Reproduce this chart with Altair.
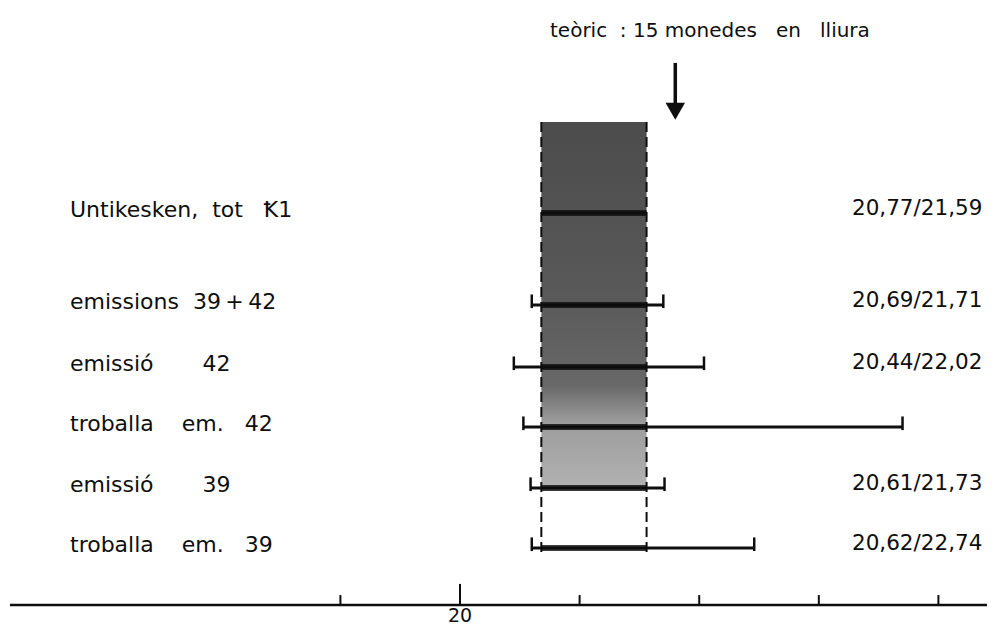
import altair as alt
import pandas as pd

NB = "\u00a0"

# ---- data ----
row_labels = [
    "Untikesken," + NB * 2 + "tot" + NB * 3 + "Ꝁ1",
    "emissions" + NB * 2 + "39\u2009+\u200942",
    "emissió" + NB * 7 + "42",
    "troballa" + NB * 4 + "em." + NB * 3 + "42",
    "emissió" + NB * 7 + "39",
    "troballa" + NB * 4 + "em." + NB * 3 + "39",
]
row_pos = [0.0, 1.484, 2.484, 3.452, 4.435, 5.403]
low = [20.68, 20.60, 20.45, 20.53, 20.59, 20.60]
high = [21.56, 21.70, 22.04, 23.70, 21.71, 22.46]
has_caps = [False, True, True, True, True, True]
range_labels = ["20,77/21,59", "20,69/21,71", "20,44/22,02", "", "20,61/21,73", "20,62/22,74"]

band_x = [20.68, 21.56]
band_y = [-1.468, 4.435]
dash_end = 5.532

theoretical = 21.8
theory_text = "teòric" + NB * 2 + ":" + NB + "15" + NB + "monedes" + NB * 3 + "en" + NB * 3 + "lliura"

tick_values = [19, 20, 21, 22, 23, 24]
tick_labels = ["", "20", "", "", "", ""]
axis_y = 6.323

# ---- scales ----
xs = alt.Scale(domain=[16.2207, 24.4063], nice=False, zero=False)
ys = alt.Scale(domain=[-3.306, 6.694], reverse=True, nice=False, zero=False)
FONT = "DejaVu Sans"
INK = "#0e0e0e"

rows = pd.DataFrame({"label": row_labels, "row": row_pos, "low": low, "high": high,
                     "caps": has_caps, "rlabel": range_labels})
band_df = pd.DataFrame({"x": [band_x[0]], "x2": [band_x[1]], "y": [band_y[0]], "y2": [band_y[1]]})
edge_df = pd.DataFrame({"x": band_x, "y": [band_y[0]] * 2, "y2": [dash_end] * 2})
ticks_df = pd.DataFrame({"v": tick_values, "lab": tick_labels})
theory_df = pd.DataFrame({"x": [theoretical], "txt": [theory_text],
                          "s1": [-2.42], "s2": [-1.72], "hy": [-1.64], "ty": [-2.839]})

gradient = alt.Gradient(
    gradient="linear",
    stops=[
        alt.GradientStop(color="#4c4c4c", offset=0),
        alt.GradientStop(color="#585858", offset=0.45),
        alt.GradientStop(color="#686868", offset=0.72),
        alt.GradientStop(color="#9c9c9c", offset=0.82),
        alt.GradientStop(color="#b2b2b2", offset=1),
    ],
    x1=0, x2=0, y1=0, y2=1,
)

band = alt.Chart(band_df).mark_rect(color=gradient).encode(
    x=alt.X("x:Q", scale=xs, axis=None), x2="x2:Q",
    y=alt.Y("y:Q", scale=ys, axis=None), y2="y2:Q",
)

edges = alt.Chart(edge_df).mark_rule(color=INK, strokeWidth=2, strokeDash=[10, 5]).encode(
    x=alt.X("x:Q", scale=xs, axis=None),
    y=alt.Y("y:Q", scale=ys, axis=None), y2="y2:Q",
)

intervals = alt.Chart(rows).mark_rule(color=INK, strokeWidth=3).encode(
    x=alt.X("low:Q", scale=xs, axis=None), x2="high:Q",
    y=alt.Y("row:Q", scale=ys, axis=None),
)

inside = alt.Chart(rows).transform_calculate(
    lo2=f"max(datum.low, {band_x[0]})", hi2=f"min(datum.high, {band_x[1]})"
).mark_rule(color="#0c0c0c", strokeWidth=6, opacity=0.8).encode(
    x=alt.X("lo2:Q", scale=xs, axis=None), x2="hi2:Q",
    y=alt.Y("row:Q", scale=ys, axis=None),
)

caps = alt.Chart(rows).transform_filter("datum.caps").transform_fold(
    ["low", "high"], as_=["end", "xv"]
).transform_calculate(
    ytop="datum.row - 0.17", ybot="datum.row + 0.05"
).mark_rule(color=INK, strokeWidth=2.5).encode(
    x=alt.X("xv:Q", scale=xs, axis=None),
    y=alt.Y("ytop:Q", scale=ys, axis=None), y2="ybot:Q",
)

left_text = alt.Chart(rows).mark_text(
    align="left", baseline="alphabetic", font=FONT, fontSize=22, color=INK, dy=4
).encode(x=alt.value(62), y=alt.Y("row:Q", scale=ys, axis=None), text="label:N")

right_text = alt.Chart(rows).mark_text(
    align="left", baseline="alphabetic", font=FONT, fontSize=21.5, color=INK, dy=2
).encode(x=alt.value(844), y=alt.Y("row:Q", scale=ys, axis=None), text="rlabel:N")

shaft = alt.Chart(theory_df).mark_rule(color=INK, strokeWidth=3.5).encode(
    x=alt.X("x:Q", scale=xs, axis=None),
    y=alt.Y("s1:Q", scale=ys, axis=None), y2="s2:Q",
)

head = alt.Chart(theory_df).mark_point(
    shape="triangle-down", filled=True, color=INK, opacity=1, size=380
).encode(x=alt.X("x:Q", scale=xs, axis=None), y=alt.Y("hy:Q", scale=ys, axis=None))

theory_label = alt.Chart(theory_df).mark_text(
    align="left", baseline="alphabetic", font=FONT, fontSize=20, color=INK
).encode(x=alt.value(542), y=alt.Y("ty:Q", scale=ys, axis=None), text="txt:N")

axis_line = alt.Chart(ticks_df).transform_aggregate(
    n="count()"
).transform_calculate(ay=f"{axis_y}").mark_rule(color=INK, strokeWidth=2.5).encode(
    x=alt.value(2), x2=alt.value(979), y=alt.Y("ay:Q", scale=ys, axis=None)
)

ticks = alt.Chart(ticks_df).transform_calculate(
    top=f"datum.v == 20 ? {axis_y} - 0.34 : {axis_y} - 0.16", bot=f"{axis_y}"
).mark_rule(color=INK, strokeWidth=2).encode(
    x=alt.X("v:Q", scale=xs, axis=None),
    y=alt.Y("top:Q", scale=ys, axis=None), y2="bot:Q",
)

tick_text = alt.Chart(ticks_df).transform_calculate(ly="6.66").mark_text(
    align="center", baseline="bottom", font=FONT, fontSize=19, color=INK
).encode(x=alt.X("v:Q", scale=xs, axis=None), y=alt.Y("ly:Q", scale=ys, axis=None), text="lab:N")

chart = alt.layer(
    band, edges, intervals, inside, caps, left_text, right_text,
    shaft, head, theory_label, axis_line, ticks, tick_text
).properties(
    width=979, height=620, padding=0, autosize=alt.AutoSizeParams(type="none"),
    background="white"
).configure_view(strokeWidth=0)

chart.save("out.html", embed_options={"renderer": "svg", "actions": False})
